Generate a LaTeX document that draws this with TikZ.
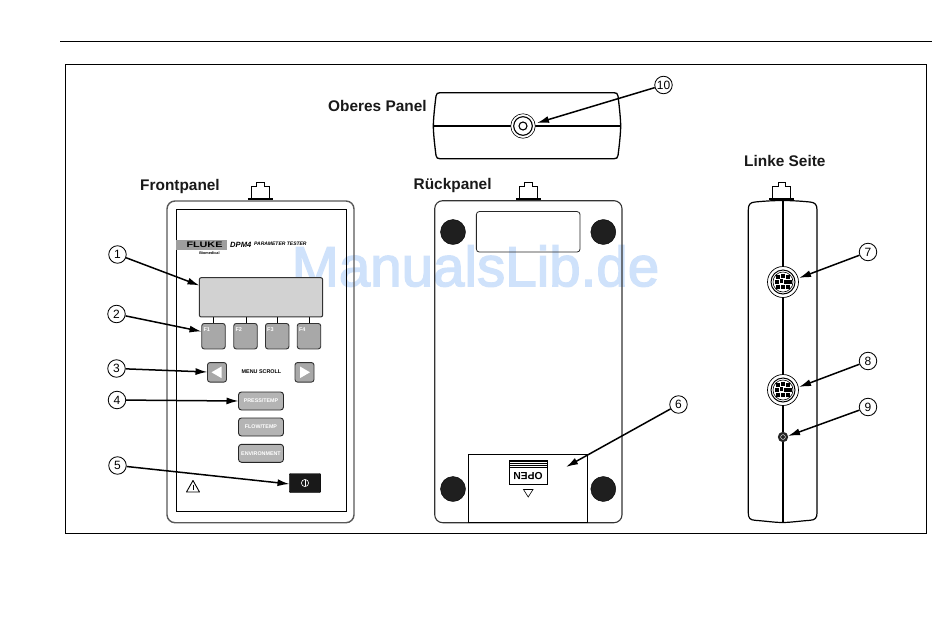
\documentclass[tikz,border=0pt]{standalone}
\usepackage{fontspec}
\setmainfont{Liberation Sans}
\newfontfamily\wmfont[FakeBold=2.4]{Liberation Sans}
\usetikzlibrary{arrows.meta}
\definecolor{lcd}{HTML}{D2D2D2}
\definecolor{keyg}{HTML}{A8A8A8}
\definecolor{keyl}{HTML}{B4B4B4}
\definecolor{wm}{HTML}{CFE2FB}
\tikzset{
  x=1pt,y=-1pt,
  heading/.style={font=\fontsize{15.4}{17}\selectfont\bfseries,inner sep=0pt,text=black!90},
  callout/.style={circle,draw=black,line width=.85pt,fill=white,minimum size=17.5pt,inner sep=0pt,font=\fontsize{12}{13}\selectfont},
  pointer/.style={draw=black,line width=1.5pt,-{Latex[length=12pt,width=7pt]}},
  frontbody/.style={draw=black!65,line width=1.4pt,rounded corners=8pt},
  backbody/.style={draw=black!80,line width=1.1pt,rounded corners=8pt},
  fkey/.style={draw=black!80,fill=keyg,line width=.9pt,rounded corners=2.5pt,inner sep=0pt,minimum width=23.5pt,minimum height=25.5pt,text=white,font=\fontsize{5.5}{6}\selectfont\bfseries},
  modekey/.style={draw=black!85,fill=keyl,line width=.9pt,rounded corners=3pt,inner sep=0pt,minimum width=45pt,minimum height=18pt,text=white,font=\fontsize{5.35}{6}\selectfont\bfseries},
  pad/.style={fill=black!88,draw=black,circle,minimum size=25pt,inner sep=0pt},
  pin/.style={fill=black,draw=none},
}
\newcommand{\topconn}[1]{%
  \draw[line width=.8pt,fill=white] (#1-9,198) -- (#1-9,186) -- (#1-3.8,186) -- (#1-3.8,182) -- (#1+3.8,182) -- (#1+3.8,186) -- (#1+9,186) -- (#1+9,198);
  \draw[line width=1.1pt] (#1-12.5,199) -- (#1+12.5,199);
}
\newcommand{\pinconn}[2]{%
  \draw[line width=.7pt,fill=white] (#1,#2) circle[radius=15.5];
  \draw[line width=1pt] (#1,#2) circle[radius=12];
  \draw[line width=.6pt] (#1,#2) circle[radius=10];
  \foreach \dx/\dy in {-5/-5,0/-6,5/-5,-6/0,-1.5/-1,3/0,7/0,-5/5,0/5,5/5}{
    \fill[pin] (#1+\dx-1.7,#2+\dy-1.7) rectangle (#1+\dx+1.7,#2+\dy+1.7);}
}
\begin{document}
\begin{tikzpicture}
\useasboundingbox (0,0) rectangle (950,638);
\fill[white] (0,0) rectangle (950,638);
% watermark lies under the drawing
\node[inner sep=0pt,text=wm,font=\wmfont\fontsize{56.5}{60}\selectfont] (wmark) at (475.5,266) {ManualsLib.de};
% page furniture
\draw[line width=1.1pt] (60,41.5) -- (932,41.5);
\draw[line width=.7pt] (65.5,64.5) rectangle (926.5,533);
% headings
\node[heading,anchor=west] (hTop) at (328,105.5) {Oberes Panel};
\node[heading,anchor=west] (hFront) at (140,187) {Frontpanel};
\node[heading,anchor=west] (hBack) at (413.5,186) {Rückpanel};
\node[heading,anchor=west] (hLeft) at (744,160.5) {Linke Seite};

% ---------- front panel
\topconn{260.3}
\draw[frontbody] (167,201) rectangle (354,522.7);
\draw[line width=1pt] (176.7,209.3) rectangle (346.7,511);
\fill[black!38] (176,240) rectangle (227,250);
\node[inner sep=0pt,font=\fontsize{8}{9}\selectfont\bfseries,xscale=1.35] (fluke) at (204.5,245) {FLUKE};
\node[inner sep=0pt,font=\fontsize{3.8}{4}\selectfont\bfseries] (bio) at (209.5,252.7) {Biomedical};
\node[inner sep=0pt,anchor=west,font=\fontsize{7.6}{8}\selectfont\bfseries\itshape] (dpm) at (230,244.6) {DPM4};
\node[inner sep=0pt,anchor=west,font=\fontsize{5}{6}\selectfont\bfseries\itshape] (ptest) at (254,244) {PARAMETER TESTER};
\foreach \tx in {213,246,277,309}{\draw[line width=1pt] (\tx,316) -- (\tx,324);}
\node[draw=black!80,fill=lcd,line width=1pt,rounded corners=2pt,minimum width=123.4pt,minimum height=39.3pt,inner sep=0pt] (lcdpanel) at (261,297.3) {};
\node[fkey] (f1) at (213.5,336.2) {\raisebox{13pt}{\makebox[20pt][l]{F1}}};
\node[fkey] (f2) at (245.5,336.2) {\raisebox{13pt}{\makebox[20pt][l]{F2}}};
\node[fkey] (f3) at (277.2,336.2) {\raisebox{13pt}{\makebox[20pt][l]{F3}}};
\node[fkey] (f4) at (309,336.2) {\raisebox{13pt}{\makebox[20pt][l]{F4}}};
\node[draw=black!80,fill=keyg,line width=.9pt,rounded corners=2.5pt,minimum width=19pt,minimum height=19.5pt,inner sep=0pt] (left) at (217,372.3) {};
\node[draw=black!80,fill=keyg,line width=.9pt,rounded corners=2.5pt,minimum width=19pt,minimum height=19.5pt,inner sep=0pt] (right) at (304.5,372.3) {};
\fill[white] (211.5,372.3) -- (221.5,366.5) -- (221.5,378.1) -- cycle;
\fill[white] (310,372.3) -- (300,366.5) -- (300,378.1) -- cycle;
\node[inner sep=0pt,font=\fontsize{5.4}{6}\selectfont\bfseries] (menu) at (261.5,371.7) {MENU SCROLL};
\node[modekey] (press) at (261,401) {PRESS/TEMP};
\node[modekey] (flow) at (261,427) {FLOW/TEMP};
\node[modekey] (env) at (261,453.3) {ENVIRONMENT};
\node[fill=black!90,draw=black,rounded corners=1pt,minimum width=31.5pt,minimum height=19pt,inner sep=0pt] (power) at (305,483) {};
\draw[white,line width=.6pt] (305,483) circle[radius=3.6];
\draw[white,line width=.7pt] (305,480) -- (305,485.5);
\draw[line width=.9pt,line join=round] (193,480.5) -- (199.5,492) -- (186.5,492) -- cycle;
\draw[line width=.9pt] (193,484.5) -- (193,489.5);

% ---------- back panel
\topconn{528.5}
\draw[backbody] (434.7,200.7) rectangle (622,522.7);
\node[draw=black!85,line width=.8pt,rounded corners=3pt,minimum width=103.7pt,minimum height=40.5pt,inner sep=0pt] (window) at (528.2,231.8) {};
\node[pad] (p1) at (453,232) {};
\node[pad] (p2) at (603.3,232) {};
\node[pad] (p3) at (453,489) {};
\node[pad] (p4) at (603.3,489) {};
\node[draw=black,line width=.8pt,minimum width=119pt,minimum height=68pt,inner sep=0pt] (door) at (528,488.5) {};
\draw[line width=.7pt] (509,460) rectangle (547,484);
\foreach \hy in {461.5,463.5,465.5,467.5}{\draw[line width=.5pt] (509,\hy) -- (547,\hy);}
\node[inner sep=0pt,rotate=180,font=\fontsize{10.3}{11}\selectfont\bfseries] (open) at (528,476.3) {OPEN};
\draw[line width=.6pt] (523.5,489.5) -- (533,489.5) -- (528.2,497) -- cycle;
\coordinate (doorpt) at (566,467);

% ---------- top panel
\draw[line width=1.3pt] (440,92.7) -- (614,92.7)
   .. controls (616.5,92.7) and (617.5,93.5) .. (618,96)
   .. controls (619.5,108) and (620.5,118) .. (620.7,126)
   .. controls (620.5,134) and (619.5,144) .. (618,155.5)
   .. controls (617.5,158) and (616.5,158.7) .. (614,158.7) -- (440,158.7)
   .. controls (437.5,158.7) and (436.5,158) .. (436,155.5)
   .. controls (434.5,144) and (433.5,134) .. (433.3,126)
   .. controls (433.5,118) and (434.5,108) .. (436,96)
   .. controls (436.5,93.5) and (437.5,92.7) .. (440,92.7) -- cycle;
\draw[line width=1.2pt] (433.3,126) -- (620.7,126);
\node[circle,draw=black,line width=.6pt,fill=white,minimum size=24.5pt,inner sep=0pt] (jack) at (523,126) {};
\draw[line width=1.1pt] (523,126) circle[radius=9.3];
\draw[line width=1.1pt] (523,126) circle[radius=4];
\coordinate (jackpt) at (537,123);

% ---------- left side
\topconn{781.8}
\draw[line width=1.2pt] (748.3,210) .. controls (748.3,204.5) and (750,202.5) .. (755,202) .. controls (765,201) and (775,200.5) .. (782.5,200.5) .. controls (790,200.5) and (800,201) .. (810,202) .. controls (815,202.5) and (817,204.5) .. (817,210) -- (817,513) .. controls (817,518) and (815,520) .. (810,520.3) .. controls (800,521) and (790,522.5) .. (782.5,522.5) .. controls (775,522.5) and (765,521) .. (755,520.3) .. controls (750,520) and (748.3,518) .. (748.3,513) -- cycle;
\draw[line width=1.3pt] (783,200.5) -- (783,522.5);
\pinconn{783}{282}
\pinconn{783}{390}
\fill[black!85] (783,437) circle[radius=5.2];
\draw[white,line width=.4pt] (783,437) circle[radius=2.4];
\coordinate (j7) at (799,278);
\coordinate (j8) at (799,387);
\coordinate (j9) at (788,436);

% ---------- callouts
\node[callout] (c1) at (117.5,254.5) {1};
\node[callout] (c2) at (116.5,314) {2};
\node[callout] (c3) at (116.5,368.5) {3};
\node[callout] (c4) at (117,400) {4};
\node[callout] (c5) at (117.5,465.5) {5};
\node[callout] (c6) at (678.5,404.5) {6};
\node[callout] (c7) at (868,252) {7};
\node[callout] (c8) at (868,361) {8};
\node[callout] (c9) at (868,407) {9};
\node[callout] (c10) at (663.5,85) {10};
\coordinate (t1) at (199.5,285.5);
\coordinate (t2) at (201.5,331.5);
\coordinate (t3) at (207.5,372);
\coordinate (t4) at (238.5,401);
\coordinate (t5) at (289.5,484);
\draw[pointer] (c1) -- (t1);
\draw[pointer] (c2) -- (t2);
\draw[pointer] (c3) -- (t3);
\draw[pointer] (c4) -- (t4);
\draw[pointer] (c5) -- (t5);
\draw[pointer] (c6) -- (doorpt);
\draw[pointer] (c7) -- (j7);
\draw[pointer] (c8) -- (j8);
\draw[pointer] (c9) -- (j9);
\draw[pointer] (c10) -- (jackpt);
\end{tikzpicture}
\end{document}
